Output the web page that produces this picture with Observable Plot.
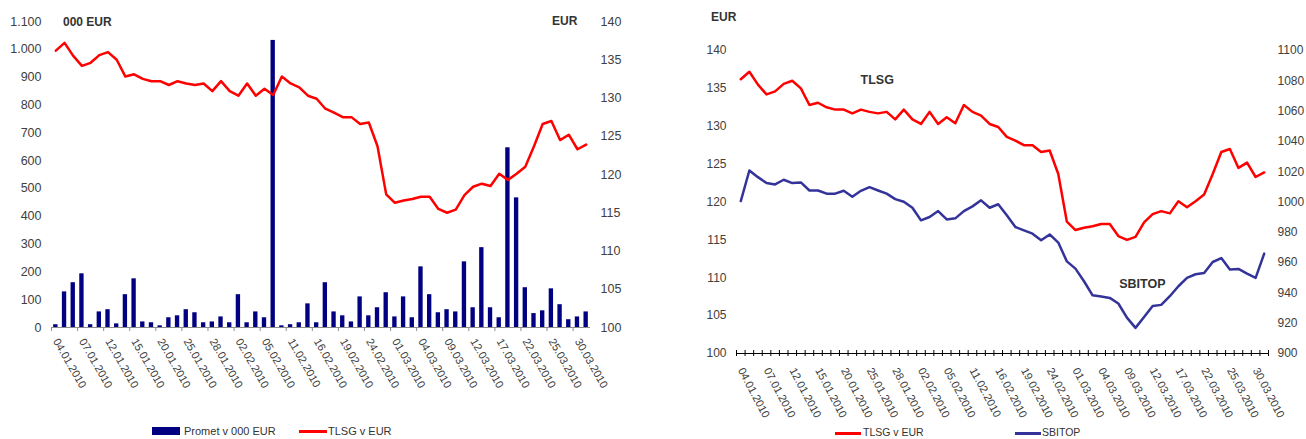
<!DOCTYPE html>
<html><head><meta charset="utf-8">
<script src="https://cdn.jsdelivr.net/npm/d3@7"></script>
<script src="https://cdn.jsdelivr.net/npm/@observablehq/plot@0.6"></script>
<style>
body{margin:0;background:#fff;font-family:"Liberation Sans",Arial,sans-serif;}
#wrap{position:relative;width:1306px;height:439px;overflow:hidden;background:#fff;}
.abs{position:absolute;white-space:nowrap;line-height:14px;}
.unit{font-weight:bold;font-size:12px;color:#333;}
.leg{font-size:11px;color:#333;}
svg{position:absolute;top:0;}
</style></head><body><div id="wrap"></div>
<script>
// Trading days (Ljubljana Stock Exchange), Q1 2010
const dates = [
"04.01.2010","05.01.2010","06.01.2010","07.01.2010","08.01.2010","11.01.2010","12.01.2010","13.01.2010","14.01.2010","15.01.2010",
"18.01.2010","19.01.2010","20.01.2010","21.01.2010","22.01.2010","25.01.2010","26.01.2010","27.01.2010","28.01.2010","29.01.2010",
"01.02.2010","02.02.2010","03.02.2010","04.02.2010","05.02.2010","09.02.2010","10.02.2010","11.02.2010","12.02.2010","15.02.2010",
"16.02.2010","17.02.2010","18.02.2010","19.02.2010","22.02.2010","23.02.2010","24.02.2010","25.02.2010","26.02.2010","01.03.2010",
"02.03.2010","03.03.2010","04.03.2010","05.03.2010","08.03.2010","09.03.2010","10.03.2010","11.03.2010","12.03.2010","15.03.2010",
"16.03.2010","17.03.2010","18.03.2010","19.03.2010","22.03.2010","23.03.2010","24.03.2010","25.03.2010","26.03.2010","29.03.2010",
"30.03.2010","31.03.2010"];

// Promet v 000 EUR
const promet = [10,128,161,193,10,56,64,13,118,175,
20,17,6,35,42,64,53,17,20,38,
17,118,17,56,35,1032,6,10,17,85,
17,161,56,42,20,110,42,71,125,38,
110,35,218,118,53,64,56,236,71,287,
71,35,646,466,143,50,60,139,82,28,
38,56];

// TLSG v EUR
const tlsg = [136.2,137.2,135.5,134.2,134.6,135.6,136.0,135.0,132.8,133.1,
132.5,132.2,132.2,131.7,132.2,131.9,131.7,131.9,130.9,132.2,
130.9,130.3,131.9,130.3,131.2,130.4,132.8,131.9,131.4,130.3,
129.9,128.6,128.1,127.5,127.5,126.6,126.8,123.7,117.4,116.3,
116.6,116.8,117.1,117.1,115.5,115.0,115.4,117.3,118.4,118.8,
118.5,120.1,119.3,120.1,121.0,123.7,126.6,127.0,124.5,125.2,
123.3,123.9];

// SBITOP
const sbitop = [1000.6,1020.8,1016.4,1012.5,1011.6,1014.7,1012.5,1012.9,1007.6,1007.6,
1005.5,1005.5,1007.4,1003.5,1007.4,1009.8,1007.6,1005.5,1001.9,1000.2,
996.2,987.9,990.1,994.0,988.5,989.2,994.0,997.1,1001.1,996.2,
998.5,991.2,983.5,981.3,979.1,974.7,978.6,973.2,960.8,956.0,
947.7,938.4,937.6,936.7,933.0,923.7,916.9,924.1,931.4,932.1,
937.8,944.4,949.9,952.3,953.2,960.4,963.0,955.4,955.8,952.7,
949.9,965.9];

const prometTicks = [0,100,200,300,400,500,600,700,800,900,1000,1100];
const eurTicks = [100,105,110,115,120,125,130,135,140];
const sbiTicks = [900,920,940,960,980,1000,1020,1040,1060,1080,1100];

// in-chart series labels (index, value)
const seriesLabels = [{text:"TLSG", i:15.9, v:136.1, scale:"eur"},{text:"SBITOP", i:46.8, v:946, scale:"sbi"}];

const n = dates.length;
const idx = d3.range(n);
const labelIdx = idx.filter(i => i % 3 === 0);
const leftBounds = labelIdx.map(i => i - 0.5);
const allBounds = d3.range(n + 1).map(i => i - 0.5);

const RED = "#ff0000", NAVY = "#000080", BLUE = "#333399", TXT = "#404040";
const font = "'Liberation Sans', Arial, sans-serif";

// ---- Left chart: volume bars + TLSG on secondary axis ----
const k1 = 1100 / 40; // EUR -> volume scale
const left = Plot.plot({
  width: 650, height: 402,
  marginLeft: 51, marginRight: 60, marginTop: 21, marginBottom: 75,
  style: {fontFamily: font, fontSize: "12.5px", color: TXT, background: "transparent", overflow: "visible"},
  x: {type: "linear", domain: [-0.5, n - 0.5]},
  y: {domain: [0, 1100]},
  marks: [
    Plot.axisY({anchor: "left", ticks: prometTicks, tickSize: 0, tickPadding: 10, label: null,
      tickFormat: d => d3.format(",")(d).replace(",", ".")}),
    Plot.axisY({anchor: "right", ticks: eurTicks.map(t => (t - 100) * k1), tickSize: 0, tickPadding: 10, label: null,
      tickFormat: d => String(Math.round(d / k1 + 100))}),
    Plot.rect(idx, {x1: i => i - 0.25, x2: i => i + 0.25, y1: 0, y2: i => promet[i], fill: NAVY}),
    Plot.ruleY([0], {stroke: "#8c8c8c", strokeWidth: 1.2}),
    Plot.axisX({ticks: leftBounds, tickSize: 4, tickFormat: () => "", stroke: "#8c8c8c", label: null}),
    Plot.axisX({ticks: labelIdx, tickSize: 0, tickPadding: 12, tickRotate: 60, fontSize: 11, label: null,
      tickFormat: i => dates[i]}),
    Plot.line(idx, {x: i => i, y: i => (tlsg[i] - 100) * k1, stroke: RED, strokeWidth: 2.5})
  ]
});
left.style.left = "0px";

// ---- Right chart: TLSG vs SBITOP ----
const toEur = v => 100 + (v - 900) / 200 * 40;
const right = Plot.plot({
  width: 626, height: 420,
  marginLeft: 56, marginRight: 38, marginTop: 50, marginBottom: 67,
  style: {fontFamily: font, fontSize: "12px", color: TXT, background: "transparent", overflow: "visible"},
  x: {type: "linear", domain: [-0.5, n - 0.5]},
  y: {domain: [100, 140]},
  marks: [
    Plot.axisY({anchor: "left", ticks: eurTicks, tickSize: 0, tickPadding: 10, label: null}),
    Plot.axisY({anchor: "right", ticks: sbiTicks.map(toEur), tickSize: 0, tickPadding: 9, label: null,
      tickFormat: d => String(Math.round(900 + (d - 100) / 40 * 200))}),
    Plot.line(idx, {x: i => i, y: i => tlsg[i], stroke: RED, strokeWidth: 2.5}),
    Plot.line(idx, {x: i => i, y: i => toEur(sbitop[i]), stroke: BLUE, strokeWidth: 2.5}),
    Plot.ruleY([100], {stroke: "#000", strokeWidth: 1.2}),
    Plot.ruleX(allBounds, {x: d => d, y1: 100, y2: 100, insetTop: -3, insetBottom: -3, stroke: "#000"}),
    Plot.axisX({ticks: labelIdx, tickSize: 0, tickPadding: 15, tickRotate: 62, fontSize: 11, label: null,
      tickFormat: i => dates[i]}),
    Plot.text(seriesLabels, {x: d => d.i, y: d => d.scale === "eur" ? d.v : toEur(d.v), text: d => d.text,
      fontWeight: "bold", fontSize: 12.5, fill: "#333"})
  ]
});
right.style.left = "680px";

const wrap = document.getElementById("wrap");
wrap.appendChild(left);
wrap.appendChild(right);

function add(html, cls, x, y, extra) {
  const el = document.createElement("div");
  el.className = "abs " + cls;
  el.style.left = x + "px"; el.style.top = y + "px";
  if (extra) Object.assign(el.style, extra);
  el.innerHTML = html;
  wrap.appendChild(el);
  return el;
}
// unit labels
add("000 EUR", "unit", 63, 15);
add("EUR", "unit", 552, 14);
add("EUR", "unit", 711, 10);
// left legend
add("", "", 152, 427, {width: "28px", height: "8px", background: NAVY});
add("Promet v 000 EUR", "leg", 184, 424);
add("", "", 299, 430, {width: "28px", height: "2.5px", background: RED});
add("TLSG v EUR", "leg", 328, 424);
// right legend
add("", "", 835, 432, {width: "26px", height: "2.5px", background: RED});
add("TLSG v EUR", "leg", 863, 425, {fontSize: "10.5px"});
add("", "", 1015, 432, {width: "26px", height: "2.5px", background: BLUE});
add("SBITOP", "leg", 1042, 425, {fontSize: "10.5px"});
</script>
</body></html>
